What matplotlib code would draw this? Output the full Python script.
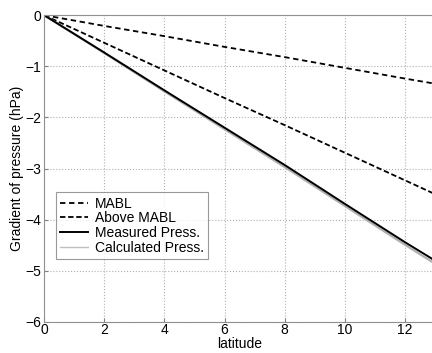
import numpy as np
import matplotlib
matplotlib.use("Agg")
import matplotlib.pyplot as plt

plt.rcParams['font.family'] = ['Liberation Sans', 'DejaVu Sans']
plt.rcParams['font.size'] = 10

# values
latitude = [0, 2, 4, 6, 8, 10, 12, 13]
mabl = [0, -0.21, -0.41, -0.62, -0.82, -1.03, -1.24, -1.34]
above_mabl = [0, -0.54, -1.08, -1.62, -2.15, -2.69, -3.23, -3.50]
measured = [0, -0.73, -1.47, -2.20, -2.93, -3.69, -4.44, -4.80]
calculated = [0, -0.74, -1.49, -2.23, -2.97, -3.73, -4.49, -4.86]

xticks = [0, 2, 4, 6, 8, 10, 12]
yticks = [0, -1, -2, -3, -4, -5, -6]

fig = plt.figure(figsize=(4.32, 3.53), dpi=100)
ax = fig.add_axes([0.102, 0.088, 0.905, 0.869])

ax.plot(latitude, mabl, color='black', linestyle=(0, (3, 2)), linewidth=1.3, label='MABL')
ax.plot(latitude, above_mabl, color='black', linestyle=(0, (3, 1.5)), linewidth=1.3, label='Above MABL')
ax.plot(latitude, calculated, color='#b0b0b0', linewidth=1.6, label='_calc')
ax.plot(latitude, measured, color='black', linewidth=1.4, label='Measured Press.')
ax.plot([], [], color='#c0c0c0', linewidth=1.0, label='Calculated Press.')

ax.set_xlim(0, 13)
ax.set_ylim(-6, 0)
ax.set_xticks(xticks)
ax.set_yticks(yticks)
ax.set_yticklabels(['0', '\u22121', '\u22122', '\u22123', '\u22124', '\u22125', '\u22126'])
ax.grid(True, linestyle=':', color='#b0b0b0', linewidth=0.8)
ax.tick_params(direction='in', length=3, color='#808080', pad=2)
ax.tick_params(axis='x', pad=1)
for s in ax.spines.values():
    s.set_color('#909090')

ax.set_xlabel('latitude', labelpad=0)
ax.set_ylabel('Gradient of pressure (hPa)', labelpad=1)

leg = ax.legend(loc='upper left', bbox_to_anchor=(0.012, 0.445), frameon=True, fancybox=False,
                edgecolor='#808080', handlelength=2.0, borderpad=0.3, labelspacing=0.05,
                handletextpad=0.5, fontsize=10)
leg.get_frame().set_linewidth(0.8)

fig.savefig('out.png', dpi=100)
